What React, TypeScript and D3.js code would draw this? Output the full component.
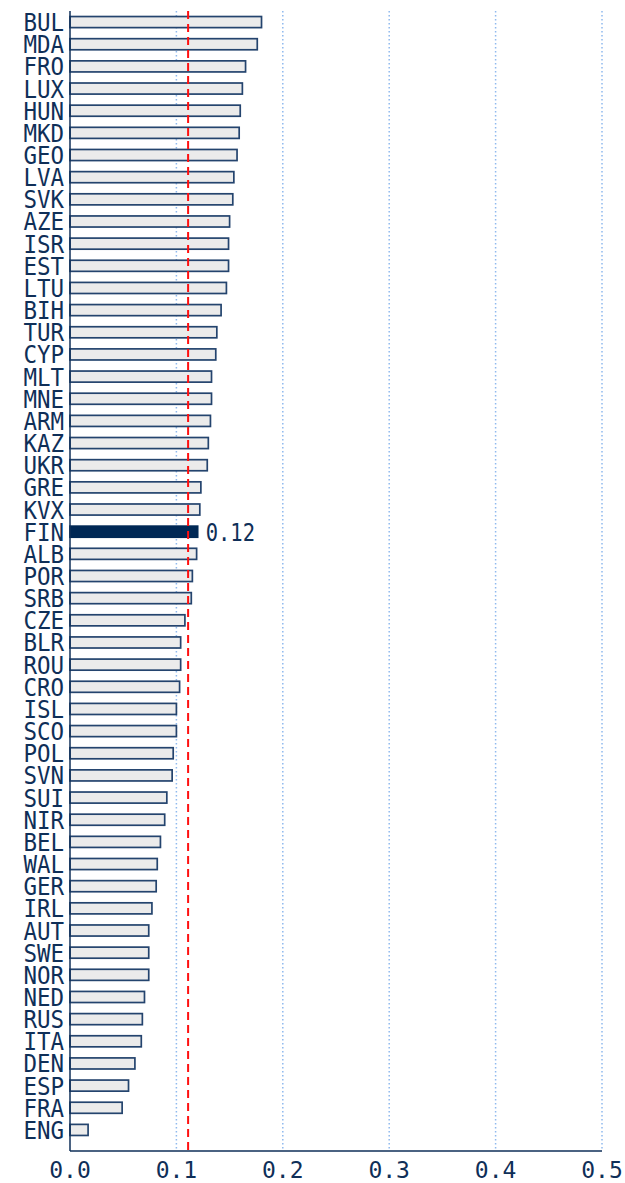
import React from "react";
import * as d3 from "d3";

const teams = [
  "BUL", "MDA", "FRO", "LUX", "HUN", "MKD", "GEO", "LVA", "SVK", "AZE",
  "ISR", "EST", "LTU", "BIH", "TUR", "CYP", "MLT", "MNE", "ARM", "KAZ",
  "UKR", "GRE", "KVX", "FIN", "ALB", "POR", "SRB", "CZE", "BLR", "ROU",
  "CRO", "ISL", "SCO", "POL", "SVN", "SUI", "NIR", "BEL", "WAL", "GER",
  "IRL", "AUT", "SWE", "NOR", "NED", "RUS", "ITA", "DEN", "ESP", "FRA", "ENG",
];

const values = [
  0.180, 0.176, 0.165, 0.162, 0.160, 0.159, 0.157, 0.154, 0.153, 0.150,
  0.149, 0.149, 0.147, 0.142, 0.138, 0.137, 0.133, 0.133, 0.132, 0.130,
  0.129, 0.123, 0.122, 0.120, 0.119, 0.115, 0.114, 0.108, 0.104, 0.104,
  0.103, 0.100, 0.100, 0.097, 0.096, 0.091, 0.089, 0.085, 0.082, 0.081,
  0.077, 0.074, 0.074, 0.074, 0.070, 0.068, 0.067, 0.061, 0.055, 0.049, 0.017,
];

const xTicks = [0, 0.1, 0.2, 0.3, 0.4, 0.5];
const highlight = "FIN";
const average = 0.111;

const width = 625;
const height = 1183;
const margin = { top: 11, right: 23, bottom: 32, left: 70 };

const navy = "#0f2f58";
const font = "'DejaVu Sans Mono', monospace";

const App: React.FC = () => {
  const x = d3
    .scaleLinear()
    .domain([0, 0.5])
    .range([margin.left, width - margin.right]);

  const y = d3
    .scaleBand()
    .domain(teams)
    .range([margin.top, height - margin.bottom - 10])
    .paddingInner(0.5)
    .paddingOuter(0.25);

  const axisY = height - margin.bottom;

  return (
    <svg
      width={width}
      height={height}
      style={{ position: "absolute", left: 0, top: 0 }}
    >
      {/* grid */}
      {xTicks.slice(1).map((t) => (
        <line
          key={t}
          x1={x(t)}
          x2={x(t)}
          y1={margin.top}
          y2={axisY}
          stroke="#8fb9ee"
          strokeWidth={1.5}
          strokeDasharray="1.5,2.5"
        />
      ))}

      {/* bars */}
      {teams.map((t, i) => {
        const hl = t === highlight;
        return (
          <rect
            key={t}
            x={x(0)}
            y={y(t)!}
            width={x(values[i]) - x(0)}
            height={y.bandwidth()}
            fill={hl ? "#002855" : "#ebebeb"}
            stroke={hl ? "#002855" : "#24446e"}
            strokeWidth={1.7}
          />
        );
      })}

      {/* average line */}
      <line
        x1={x(average)}
        x2={x(average)}
        y1={margin.top}
        y2={axisY}
        stroke="#ff1010"
        strokeWidth={2}
        strokeDasharray="8,5"
      />

      {/* highlight value */}
      {teams.map((t, i) =>
        t === highlight ? (
          <text
            key={t}
            transform={`translate(${x(values[i]) + 8},${
              y(t)! + y.bandwidth() / 2
            }) scale(0.82,1)`}
            dy="0.36em"
            fontFamily={font}
            fontSize={25}
            fill={navy}
          >
            {values[i].toFixed(2)}
          </text>
        ) : null
      )}

      {/* y labels */}
      {teams.map((t) => (
        <text
          key={t}
          transform={`translate(${margin.left - 6},${
            y(t)! + y.bandwidth() / 2
          }) scale(0.9,1)`}
          dy="0.36em"
          textAnchor="end"
          fontFamily={font}
          fontSize={25}
          fill={navy}
        >
          {t}
        </text>
      ))}

      {/* axes */}
      <line
        x1={x(0)}
        x2={x(0)}
        y1={margin.top}
        y2={axisY}
        stroke={navy}
        strokeWidth={1.5}
      />
      <line
        x1={x(0)}
        x2={x(0.5)}
        y1={axisY}
        y2={axisY}
        stroke={navy}
        strokeWidth={1.5}
      />
      {xTicks.map((t) => (
        <text
          key={t}
          x={x(t)}
          y={axisY + 27}
          textAnchor="middle"
          fontFamily={font}
          fontSize={23}
          fill={navy}
        >
          {t.toFixed(1)}
        </text>
      ))}
    </svg>
  );
};

export default App;
